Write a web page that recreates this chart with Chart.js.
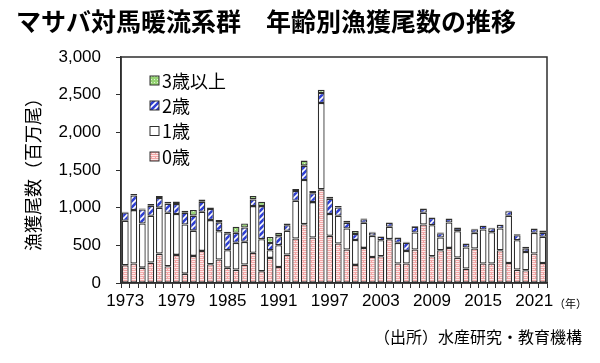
<!DOCTYPE html>
<html>
<head>
<meta charset="utf-8">
<script src="https://cdn.jsdelivr.net/npm/chart.js@4.4.1/dist/chart.umd.min.js"></script>
<style>
  html, body { margin: 0; padding: 0; background: #fff; }
  #wrap { position: relative; width: 600px; height: 363px; }
</style>
</head>
<body>
<div id="wrap"><canvas id="catchChart" width="600" height="363"></canvas></div>
<script>
// 漁獲尾数（百万尾）, 1973-2022
const years = [];
for (let y = 1973; y <= 2022; y++) years.push(String(y));

const age0 = [235, 258, 204, 271, 390, 222, 373, 124, 360, 426,
    249, 311, 204, 178, 244, 400, 155, 333, 213, 377,
    590, 781, 604, 1243, 626, 524, 444, 240, 466, 346,
    355, 582, 258, 258, 444, 777, 355, 435, 466, 337,
    191, 457, 258, 258, 435, 266, 178, 169, 391, 266];
const age1 = [591, 710, 586, 621, 610, 710, 542, 653, 335, 520,
    586, 377, 231, 355, 302, 621, 427, 102, 289, 316,
    502, 586, 470, 1146, 289, 368, 280, 330, 333, 280,
    213, 164, 275, 168, 226, 155, 413, 169, 338, 351,
    280, 209, 452, 417, 289, 626, 390, 244, 275, 347];
const age2 = [110, 193, 185, 132, 129, 122, 133, 157, 200, 134,
    148, 117, 224, 133, 191, 89, 439, 96, 120, 75,
    129, 191, 117, 133, 205, 111, 75, 80, 48, 45,
    46, 50, 63, 110, 77, 50, 94, 58, 45, 41,
    48, 48, 49, 53, 48, 62, 65, 47, 50, 54];
const age3 = [10, 20, 15, 25, 25, 25, 35, 25, 75, 30,
    20, 30, 20, 80, 53, 44, 58, 80, 44, 22,
    27, 67, 30, 44, 25, 18, 27, 40, 10, 8,
    8, 8, 8, 10, 8, 8, 8, 8, 8, 8,
    5, 5, 5, 5, 5, 5, 15, 20, 8, 30];

const seriesNames = ['0歳', '1歳', '2歳', '3歳以上'];
const yTicks = [0, 500, 1000, 1500, 2000, 2500, 3000];

const lineColor = '#2e2e2e';
const plotBox = { left: 121, top: 57, right: 547, bottom: 283 };

function makePattern(size, draw) {
    const c = document.createElement('canvas');
    c.width = size;
    c.height = size;
    const g = c.getContext('2d');
    draw(g, size);
    return g.createPattern(c, 'repeat');
}

// pink with light horizontal dashes
const pinkFill = makePattern(4, (g, s) => {
    g.fillStyle = '#f3a7a7';
    g.fillRect(0, 0, s, s);
    g.fillStyle = 'rgba(255,255,255,0.75)';
    g.fillRect(0, 1, 3, 1);
    g.fillRect(0, 3, 4, 1);
});
// blue with white diagonal stripes
const blueFill = makePattern(6, (g, s) => {
    g.fillStyle = '#2e3fd4';
    g.fillRect(0, 0, s, s);
    g.strokeStyle = '#ffffff';
    g.lineWidth = 1.6;
    g.beginPath();
    g.moveTo(-1, s + 1); g.lineTo(s + 1, -1);
    g.moveTo(-1, 1); g.lineTo(1, -1);
    g.moveTo(s - 1, s + 1); g.lineTo(s + 1, s - 1);
    g.stroke();
});
// green with white dots
const greenFill = makePattern(3, (g, s) => {
    g.fillStyle = '#96d474';
    g.fillRect(0, 0, s, s);
    g.fillStyle = 'rgba(255,255,255,0.7)';
    g.fillRect(1, 1, 1, 1);
});

const fills = [pinkFill, '#ffffff', blueFill, greenFill];
const seriesData = [age0, age1, age2, age3];

const extraText = {
    id: 'extraText',
    afterDraw(chart) {
        const c = chart.ctx;
        const area = chart.chartArea;
        c.save();
        // plot frame
        c.strokeStyle = lineColor;
        c.lineWidth = 1.5;
        c.strokeRect(area.left, area.top, area.right - area.left, area.bottom - area.top);

        c.fillStyle = '#000';
        c.textBaseline = 'middle';
        c.textAlign = 'left';
        c.font = 'bold 25px "Noto Sans CJK JP", sans-serif';
        c.fillText('マサバ対馬暖流系群　年齢別漁獲尾数の推移', 16, 21);

        c.font = '11px "Noto Sans CJK JP", sans-serif';
        c.fillText('（年）', 554, 304);

        c.font = '16px "Noto Sans CJK JP", sans-serif';
        c.textAlign = 'right';
        c.fillText('（出所）水産研究・教育機構', 582, 337);

        // legend inside the plot, top item first
        c.textAlign = 'left';
        c.font = '18px "Noto Sans CJK JP", sans-serif';
        const rowY = [81, 106, 131.5, 157];
        for (let k = 0; k < 4; k++) {
            const idx = 3 - k;
            const y = rowY[k];
            c.fillStyle = fills[idx];
            c.fillRect(150, y - 5, 9, 9);
            c.strokeStyle = lineColor;
            c.lineWidth = 1;
            c.strokeRect(150, y - 5, 9, 9);
            c.fillStyle = '#000';
            c.fillText(seriesNames[idx], 162, y);
        }
        c.restore();
    }
};

new Chart(document.getElementById('catchChart'), {
    type: 'bar',
    data: {
        labels: years,
        datasets: seriesNames.map((name, i) => ({
            label: name,
            data: seriesData[i],
            backgroundColor: fills[i],
            borderColor: lineColor,
            borderWidth: 1.3,
            borderSkipped: false,
            barPercentage: 0.8,
            categoryPercentage: 1.0
        }))
    },
    options: {
        responsive: false,
        animation: false,
        layout: {
            padding: { left: 0, top: plotBox.top, right: 600 - plotBox.right, bottom: 0 }
        },
        plugins: {
            legend: { display: false },
            tooltip: { enabled: false }
        },
        scales: {
            x: {
                stacked: true,
                offset: true,
                grid: {
                    offset: true,
                    drawOnChartArea: false,
                    drawTicks: true,
                    tickLength: 5,
                    color: lineColor,
                    lineWidth: 1
                },
                border: { color: lineColor, width: 1.5 },
                ticks: {
                    autoSkip: false,
                    maxRotation: 0,
                    padding: 3,
                    color: '#000',
                    font: { family: '"Liberation Sans", Arial, sans-serif', size: 17 },
                    callback: (v, i) => (i % 6 === 0 ? years[i] : '')
                },
                afterFit: scale => { scale.height = 363 - plotBox.bottom; }
            },
            y: {
                stacked: true,
                min: 0,
                max: 3000,
                afterBuildTicks: scale => { scale.ticks = yTicks.map(v => ({ value: v })); },
                grid: {
                    drawOnChartArea: false,
                    drawTicks: true,
                    tickLength: 5,
                    color: lineColor
                },
                border: { color: lineColor, width: 1.5 },
                ticks: {
                    padding: 15,
                    color: '#000',
                    font: { family: '"Liberation Sans", Arial, sans-serif', size: 17 },
                    callback: v => v.toLocaleString('en-US')
                },
                title: {
                    display: true,
                    text: '漁獲尾数（百万尾）',
                    color: '#000',
                    font: { family: '"Noto Sans CJK JP", sans-serif', size: 18 },
                    padding: { top: 22, bottom: 0 }
                },
                afterFit: scale => { scale.width = plotBox.left; }
            }
        }
    },
    plugins: [extraText]
});
</script>
</body>
</html>
